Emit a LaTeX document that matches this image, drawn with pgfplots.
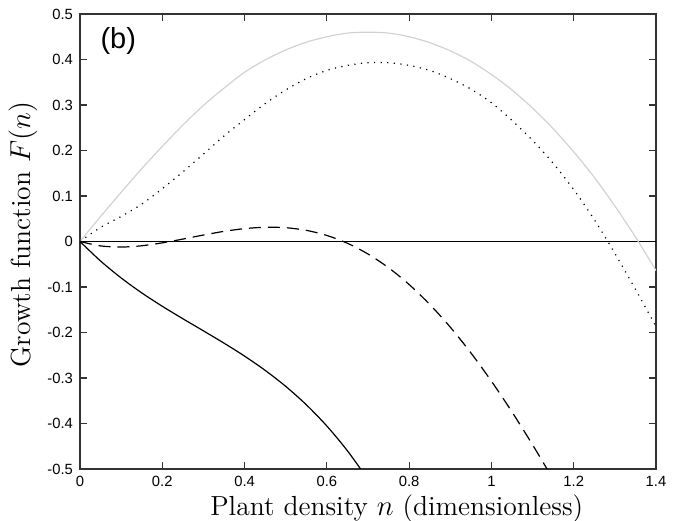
\documentclass[border=0pt]{standalone}
\usepackage{fontspec}
\usepackage{pgfplots}
\pgfplotsset{compat=1.18}
\newfontfamily\helv{Liberation Sans}
\definecolor{ltgrey}{HTML}{D2D2D2}

\begin{document}
\begin{tikzpicture}
\begin{axis}[
    width=288pt, height=227.5pt,
    scale only axis,
    xmin=0, xmax=1.4,
    ymin=-0.5, ymax=0.5,
    xtick={0,0.2,...,1.4},
    ytick={-0.5,-0.4,...,0.5},
    tick align=inside,
    major tick length=3.5pt,
    axis line style={black!80, line width=0.8pt},
    every tick/.style={black!80, line width=0.6pt},
    tick label style={font=\helv\fontsize{7.4}{8}\selectfont},
    /pgf/number format/assume math mode=true,
    xlabel={Plant density $n$ (dimensionless)},
    ylabel={Growth function $F(n)$},
    label style={font=\fontsize{13.8}{15}\selectfont},
    xlabel style={at={(axis description cs:0.55,-0.087)}, anchor=center},
    ylabel style={at={(axis description cs:-0.099,0.515)}, anchor=center},
    clip=true,
]

% horizontal zero line
\addplot[black, line width=0.6pt] coordinates {(0,0) (1.4,0)};

% light grey solid
\addplot[ltgrey, line width=0.6pt, smooth] coordinates {
(0,0) (0.05,0.055) (0.1,0.108) (0.15,0.160) (0.2,0.209) (0.25,0.256)
(0.3,0.299) (0.35,0.337) (0.4,0.372) (0.45,0.399) (0.5,0.421) (0.55,0.438)
(0.6,0.450) (0.65,0.458) (0.7,0.460) (0.75,0.458) (0.8,0.450) (0.85,0.437)
(0.9,0.419) (0.95,0.396) (1.0,0.367) (1.05,0.333) (1.1,0.293) (1.15,0.248)
(1.2,0.197) (1.25,0.141) (1.3,0.078) (1.35,0.010) (1.4,-0.064)
};

% dotted
\addplot[black, line width=0.6pt, smooth, dash pattern=on 0.6pt off 2.7pt] coordinates {
(0,0) (0.05,0.031) (0.1,0.055) (0.15,0.082) (0.2,0.116) (0.25,0.153)
(0.3,0.192) (0.35,0.232) (0.4,0.268) (0.45,0.303) (0.5,0.333) (0.55,0.358)
(0.6,0.376) (0.65,0.387) (0.7,0.393) (0.75,0.393) (0.8,0.387) (0.85,0.376)
(0.9,0.358) (0.95,0.335) (1.0,0.305) (1.05,0.266) (1.1,0.222) (1.15,0.172)
(1.2,0.114) (1.25,0.048) (1.3,-0.026) (1.35,-0.105) (1.4,-0.187)
};

% dashed
\addplot[black, line width=0.6pt, smooth, dash pattern=on 6pt off 3.5pt] coordinates {
(0,0) (0.05,-0.0097) (0.1,-0.0122) (0.15,-0.0094) (0.2,-0.0030) (0.25,0.0053)
(0.3,0.0142) (0.35,0.0223) (0.4,0.0283) (0.45,0.0313) (0.5,0.0303)
(0.55,0.0245) (0.6,0.0133) (0.65,-0.0039) (0.7,-0.0275) (0.75,-0.0577)
(0.8,-0.0946) (0.85,-0.1382) (0.9,-0.1883) (0.95,-0.2447) (1.0,-0.3070)
(1.05,-0.3746) (1.1,-0.4468) (1.15,-0.5227)
};

% solid black
\addplot[black, line width=0.6pt, smooth] coordinates {
(0,0) (0.05,-0.0429) (0.1,-0.0801) (0.15,-0.1129) (0.2,-0.1424) (0.25,-0.1698)
(0.3,-0.1964) (0.35,-0.2234) (0.4,-0.2519) (0.45,-0.2832) (0.5,-0.3184)
(0.55,-0.3588) (0.6,-0.4056) (0.65,-0.4600) (0.7,-0.5231)
};

\node[font=\helv\fontsize{14.5}{16}\selectfont, anchor=north west, inner sep=0pt]
    at (rel axis cs:0.035,0.972) {(b)};
\end{axis}
\pgfresetboundingbox
\path[use as bounding box] ([shift={(-40pt,-26pt)}]current axis.south west)
    rectangle ([shift={(11.5pt,7pt)}]current axis.north east);
\end{tikzpicture}
\end{document}
